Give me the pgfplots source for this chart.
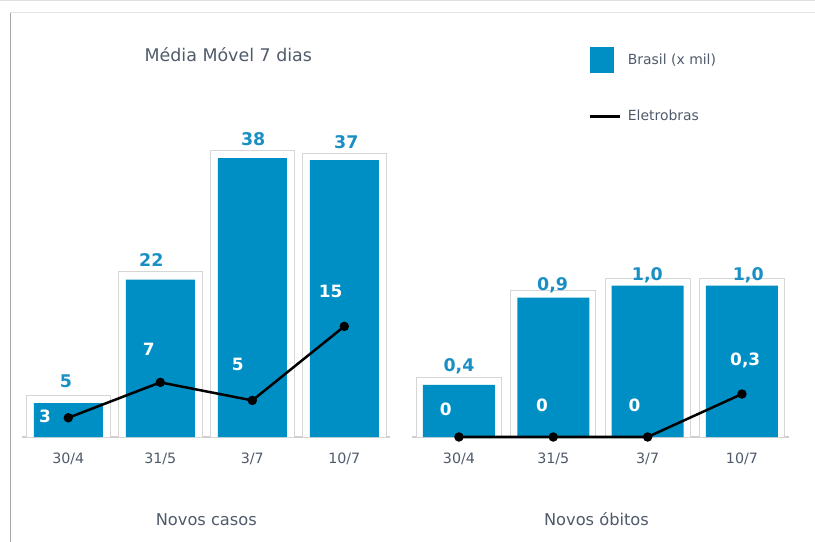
\documentclass[border=0pt]{standalone}
\usepackage{pgfplots}
\pgfplotsset{compat=1.18}
\usepackage{pgfplotstable}
\usepackage{fontspec}
\setmainfont{DejaVu Sans}
\definecolor{brasil}{HTML}{008FC5}
\definecolor{lblblue}{HTML}{1A8FC4}
\definecolor{txt}{HTML}{4F5A6A}
\definecolor{framegray}{HTML}{D6D6D6}
\definecolor{basegray}{HTML}{CFCFCF}

\pgfplotstableread{
x inner frame line
0 4.61 5.66 2.62
1 21.45 22.48 7.44
2 38.00 38.99 4.98
3 37.72 38.64 15.07
}\casos
\pgfplotstableread{
x inner frame line
0 0.344 0.392 0
1 0.921 0.967 0
2 1.000 1.046 0
3 1.000 1.046 0.284
}\obitos

\tikzset{
  vlab/.style={font=\bfseries\fontsize{17.5}{20}\selectfont, text=lblblue},
  wlab/.style={font=\bfseries\fontsize{17}{20}\selectfont, text=white},
}
\pgfplotsset{
  panel/.style={
    scale only axis, height=367.1bp, anchor=south west,
    xmin=-0.5, xmax=3.5, ymin=0,
    xtick={0,1,2,3}, xticklabels={30/4,31/5,3/7,10/7},
    axis x line=bottom, axis y line=none,
    x axis line style={-, draw=basegray, line width=1.5bp},
    major x tick style={draw=none},
    xticklabel style={anchor=base, yshift=-24.7bp, font=\fontsize{14.3}{16}\selectfont, text=txt},
    xlabel style={at={(axis description cs:0.5,0)}, anchor=base, yshift=-88bp, font=\fontsize{16.3}{19}\selectfont, text=txt},
    clip=false,
  },
  frameplot/.style={ybar, bar shift=0pt, fill=white, draw=framegray, line width=1bp, forget plot},
  barplot/.style={ybar, bar shift=0pt, fill=brasil, draw=none},
  lineplot/.style={black, line width=2.5bp, mark=*, mark size=3.4bp, mark options={fill=black}},
}

\begin{document}
\begin{tikzpicture}
\useasboundingbox (0bp,0bp) rectangle (815bp,542bp);
\draw[gray!25, line width=1bp] (0bp,541.5bp) -- (815bp,541.5bp);
\draw[gray!20, line width=1bp] (10bp,529.3bp) -- (815bp,529.3bp);
\draw[gray!70, line width=1bp] (10bp,0bp) -- (10bp,529.3bp);

\begin{axis}[panel, at={(22.3bp,105bp)}, width=368bp, ymax=50, xlabel={Novos casos}]
\addplot[frameplot, bar width=84bp] table[x=x, y=frame] {\casos};
\addplot[barplot, bar width=69bp] table[x=x, y=inner] {\casos};
\addplot[lineplot] table[x=x, y=line] {\casos};
\node[vlab] at (axis cs:-0.027,7.63) {5};
\node[vlab] at (axis cs:0.902,24.04) {22};
\node[vlab] at (axis cs:2.01,40.56) {38};
\node[vlab] at (axis cs:3.022,40.11) {37};
\node[wlab] at (axis cs:-0.253,2.76) {3};
\node[wlab] at (axis cs:0.874,11.92) {7};
\node[wlab] at (axis cs:1.842,9.87) {5};
\node[wlab] at (axis cs:2.852,19.79) {15};
\end{axis}

\begin{axis}[panel, at={(411.8bp,105bp)}, width=377.3bp, ymax=2.426,
  xlabel={Novos óbitos}, xlabel style={xshift=-4bp},
  legend style={at={(axis description cs:0.467,1.062)}, anchor=north west, draw=none, fill=none, inner sep=0pt,
    font=\fontsize{14}{16}\selectfont, text=txt, row sep=35bp},
  legend cell align=left]
\addplot[frameplot, bar width=85bp] table[x=x, y=frame] {\obitos};
\addplot[barplot, bar width=72bp, legend image code/.code={\fill[brasil] (0bp,-13bp) rectangle (24bp,13bp);}] table[x=x, y=inner] {\obitos};
\addlegendentry{Brasil (x mil)}
\addplot[lineplot, legend image code/.code={\draw[black, line width=2.8bp] (0bp,0bp) -- (30bp,0bp); \path (0bp,0bp) (35bp,0bp);}] table[x=x, y=line] {\obitos};
\addlegendentry{Eletrobras}
\node[vlab] at (axis cs:0,0.465) {0,4};
\node[vlab] at (axis cs:0.993,1.001) {0,9};
\node[vlab] at (axis cs:1.998,1.069) {1,0};
\node[vlab] at (axis cs:3.067,1.069) {1,0};
\node[wlab] at (axis cs:-0.14,0.18) {0};
\node[wlab] at (axis cs:0.88,0.208) {0};
\node[wlab] at (axis cs:1.862,0.208) {0};
\node[wlab] at (axis cs:3.035,0.509) {0,3};
\end{axis}

\node[anchor=base, font=\fontsize{17.5}{20}\selectfont, text=txt] at (228.3bp,480.3bp) {Média Móvel 7 dias};
\end{tikzpicture}
\end{document}
